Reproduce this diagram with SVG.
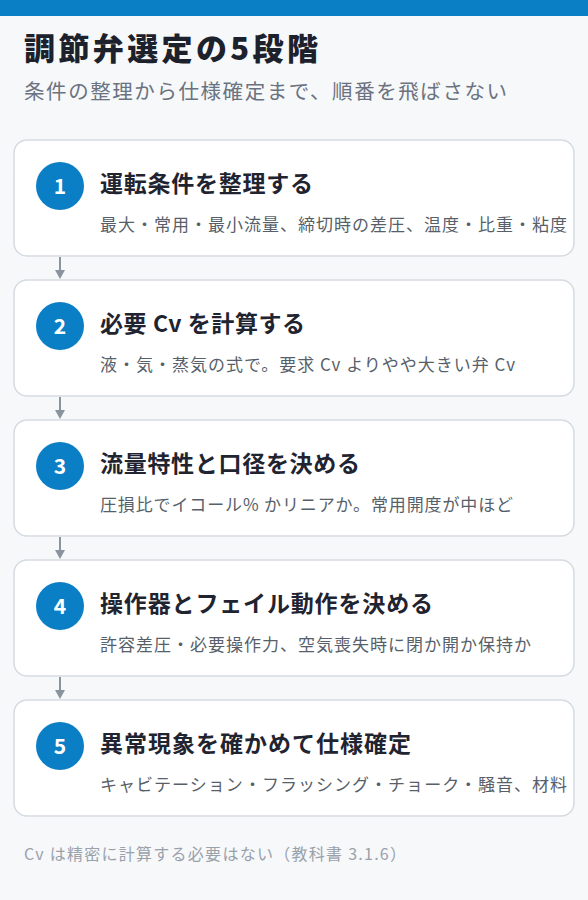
<svg xmlns="http://www.w3.org/2000/svg" width="588" height="900" viewBox="0 0 588 900">
<style>
text{font-family:"Noto Sans CJK JP","Noto Sans",sans-serif}
.h1{font-size:31px;font-weight:900;fill:#1c212b}
.sub{font-size:20.5px;fill:#6b7280}
.card{fill:#ffffff;stroke:#d6dbe1;stroke-width:1.5}
.num{fill:#0a7fc6}
.numt{font-size:21px;font-weight:700;fill:#ffffff;text-anchor:middle}
.t{font-size:23px;font-weight:700;fill:#1f2430}
.d{font-size:17px;fill:#575f6a}
.foot{font-size:16px;fill:#9aa1ab}
.conn{stroke:#8a949f;stroke-width:2;fill:none}
.ah{fill:#8a949f}
</style>
<rect x="0" y="0" width="588" height="900" fill="#f6f8fa"/>
<rect x="0" y="0" width="588" height="16" fill="#0a7fc6"/>
<text class="h1" x="24" y="60" textLength="294" lengthAdjust="spacing">調節弁選定の5段階</text>
<text class="sub" x="24" y="99" textLength="483" lengthAdjust="spacing">条件の整理から仕様確定まで、順番を飛ばさない</text>

<g id="connectors">
<line class="conn" x1="60" y1="257" x2="60" y2="271"/><polygon class="ah" points="55,270 65,270 60,279"/>
<line class="conn" x1="60" y1="397" x2="60" y2="411"/><polygon class="ah" points="55,410 65,410 60,419"/>
<line class="conn" x1="60" y1="537" x2="60" y2="551"/><polygon class="ah" points="55,550 65,550 60,559"/>
<line class="conn" x1="60" y1="677" x2="60" y2="691"/><polygon class="ah" points="55,690 65,690 60,699"/>
</g>

<g id="step1">
<rect class="card" x="14" y="140" width="560" height="116" rx="13"/>
<circle class="num" cx="60" cy="186" r="24"/>
<text class="numt" x="60" y="193.5">1</text>
<text class="t" x="100" y="192" textLength="213" lengthAdjust="spacing">運転条件を整理する</text>
<text class="d" x="100" y="230.5" textLength="467" lengthAdjust="spacing">最大・常用・最小流量、締切時の差圧、温度・比重・粘度</text>
</g>
<g id="step2">
<rect class="card" x="14" y="280" width="560" height="116" rx="13"/>
<circle class="num" cx="60" cy="326" r="24"/>
<text class="numt" x="60" y="333.5">2</text>
<text class="t" x="100" y="332" textLength="205" lengthAdjust="spacing">必要 Cv を計算する</text>
<text class="d" x="100" y="370.5" textLength="415" lengthAdjust="spacing">液・気・蒸気の式で。要求 Cv よりやや大きい弁 Cv</text>
</g>
<g id="step3">
<rect class="card" x="14" y="420" width="560" height="116" rx="13"/>
<circle class="num" cx="60" cy="466" r="24"/>
<text class="numt" x="60" y="473.5">3</text>
<text class="t" x="100" y="472" textLength="260" lengthAdjust="spacing">流量特性と口径を決める</text>
<text class="d" x="100" y="510.5" textLength="413" lengthAdjust="spacing">圧損比でイコール% かリニアか。常用開度が中ほど</text>
</g>
<g id="step4">
<rect class="card" x="14" y="560" width="560" height="116" rx="13"/>
<circle class="num" cx="60" cy="606" r="24"/>
<text class="numt" x="60" y="613.5">4</text>
<text class="t" x="100" y="612" textLength="333" lengthAdjust="spacing">操作器とフェイル動作を決める</text>
<text class="d" x="100" y="650.5" textLength="431" lengthAdjust="spacing">許容差圧・必要操作力、空気喪失時に閉か開か保持か</text>
</g>
<g id="step5">
<rect class="card" x="14" y="700" width="560" height="116" rx="13"/>
<circle class="num" cx="60" cy="746" r="24"/>
<text class="numt" x="60" y="753.5">5</text>
<text class="t" x="100" y="752" textLength="311" lengthAdjust="spacing">異常現象を確かめて仕様確定</text>
<text class="d" x="100" y="790.5" textLength="467" lengthAdjust="spacing">キャビテーション・フラッシング・チョーク・騒音、材料</text>
</g>
<text class="foot" x="24" y="860" textLength="382" lengthAdjust="spacing">Cv は精密に計算する必要はない（教科書 3.1.6）</text>
</svg>
